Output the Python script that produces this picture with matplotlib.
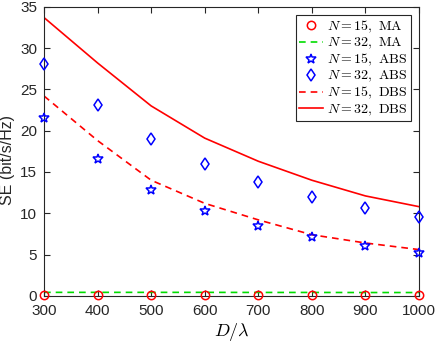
import numpy as np
import matplotlib
matplotlib.use("Agg")
import matplotlib.pyplot as plt

plt.rcParams["font.family"] = "Liberation Sans"
plt.rcParams["mathtext.fontset"] = "cm"

d_lambda = [300, 400, 500, 600, 700, 800, 900, 1000]
ma_15 = [0.15, 0.15, 0.15, 0.15, 0.15, 0.15, 0.15, 0.15]
ma_32 = [0.42, 0.42, 0.42, 0.42, 0.41, 0.41, 0.4, 0.4]
abs_15 = [21.5, 16.6, 12.8, 10.3, 8.5, 7.1, 6.05, 5.2]
abs_32 = [28.1, 23.1, 19.0, 16.0, 13.8, 12.0, 10.6, 9.5]
dbs_15 = [24.2, 18.8, 14.0, 11.2, 9.2, 7.4, 6.4, 5.6]
dbs_32 = [33.7, 28.2, 23.0, 19.1, 16.3, 14.0, 12.1, 10.8]

fig = plt.figure(figsize=(4.36, 3.42), dpi=100)
ax = fig.add_axes([0.101, 0.135, 0.86, 0.845])

dash = (4, 3)
ax.plot(d_lambda, ma_15, "o", color="red", markerfacecolor="none", markersize=6,
        markeredgewidth=1.1, label=r"$N=15,\ \mathrm{MA}$", clip_on=False, zorder=5)
ax.plot(d_lambda, ma_32, "--", color="#00dd00", linewidth=1.2, dashes=dash,
        label=r"$N=32,\ \mathrm{MA}$")
ax.plot(d_lambda, abs_15, "*", color="blue", markerfacecolor="none", markersize=7.5,
        markeredgewidth=1.1, label=r"$N=15,\ \mathrm{ABS}$", clip_on=False, zorder=5)
ax.plot(d_lambda, abs_32, "d", color="blue", markerfacecolor="none", markersize=6.5,
        markeredgewidth=1.1, label=r"$N=32,\ \mathrm{ABS}$", clip_on=False, zorder=5)
ax.plot(d_lambda, dbs_15, "--", color="red", linewidth=1.2, dashes=dash,
        label=r"$N=15,\ \mathrm{DBS}$")
ax.plot(d_lambda, dbs_32, "-", color="red", linewidth=1.2,
        label=r"$N=32,\ \mathrm{DBS}$")

ax.set_xlim(300, 1000)
ax.set_ylim(0, 35)
ax.set_xticks(d_lambda)
ax.set_yticks(np.arange(0, 36, 5))
ax.tick_params(direction="in", top=True, right=True, labelsize=11, length=4,
               color="#262626", labelcolor="#262626")
ax.tick_params(axis="x", pad=6)
ax.tick_params(axis="y", pad=5)
for s in ax.spines.values():
    s.set_color("#262626")
    s.set_linewidth(0.8)

ax.set_xlabel(r"$D/\lambda$", fontsize=13, labelpad=2)
ax.set_ylabel("SE (bit/s/Hz)", fontsize=11.5, color="#262626")
ax.yaxis.set_label_coords(-0.077, 0.47)

leg = ax.legend(loc="upper right", fontsize=10, handlelength=1.7,
                handletextpad=0.3, labelspacing=0.05, borderaxespad=0.6,
                borderpad=0.25, fancybox=False, framealpha=1)
leg.get_frame().set_edgecolor("#262626")
leg.get_frame().set_linewidth(0.8)

fig.savefig("out.png", dpi=100)
